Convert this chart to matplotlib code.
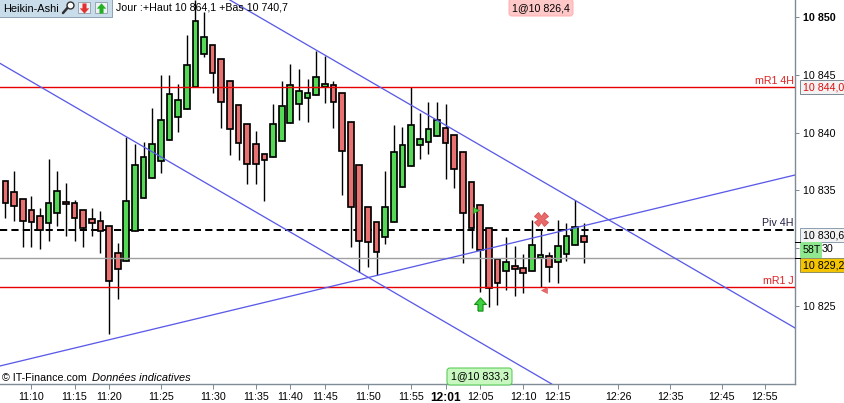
import matplotlib
matplotlib.use('Agg')
import matplotlib.pyplot as plt
from matplotlib.patches import Rectangle, FancyBboxPatch
from matplotlib.path import Path

plt.rcParams['font.family'] = ['Liberation Sans', 'DejaVu Sans']

# top and bottom of the bodies, wicks, all in points
highs = [10835.79,10836.68,10834.23,10834.52,10833.45,10837.72,10836.68,10835.64,10834.14,10833.28,
         10833.45,10833.22,10831.90,10830.45,10839.65,10839.01,10839.16,10842.10,10844.98,10844.98,
         10844.20,10848.42,10851.47,10850.41,10847.55,10846.34,10844.44,10842.36,10840.72,10840.11,
         10838.12,10842.47,10844.44,10845.93,10845.48,10844.61,10847.08,10846.63,10844.44,10843.40,
         10840.89,10837.17,10833.54,10832.24,10836.68,10840.63,10840.46,10843.92,10841.67,10842.62,
         10842.62,10842.45,10839.77,10838.30,10835.70,10833.71,10831.72,10829.09,10830.94,10830.19,
         10829.47,10832.41,10831.66,10829.65,10832.41,10832.16,10834.14,10832.16]
tops = [10835.79,10834.84,10834.23,10833.28,10832.76,10833.89,10834.92,10833.97,10833.89,10833.28,
        10832.50,10832.33,10831.90,10829.56,10834.06,10837.17,10837.86,10838.99,10841.06,10843.31,
        10842.79,10845.82,10849.63,10848.24,10847.55,10846.34,10844.44,10842.36,10840.72,10838.99,
        10838.12,10840.72,10842.28,10844.09,10843.57,10843.40,10844.78,10844.18,10844.09,10843.40,
        10840.89,10837.17,10833.54,10832.24,10833.54,10838.30,10838.90,10840.63,10839.42,10840.29,
        10841.06,10840.37,10839.77,10838.30,10835.70,10833.71,10831.72,10829.09,10828.78,10828.44,
        10828.26,10830.25,10829.39,10829.30,10830.17,10831.03,10831.81,10831.03]
bottoms = [10833.89,10833.63,10832.33,10832.24,10831.55,10832.16,10833.02,10833.80,10832.59,10831.72,
           10832.16,10831.46,10827.14,10828.18,10828.87,10831.46,10834.32,10836.05,10837.52,10839.33,
           10841.32,10842.02,10843.92,10846.77,10845.13,10842.62,10840.29,10839.08,10837.26,10837.26,
           10837.60,10837.86,10839.25,10840.81,10842.45,10842.97,10843.23,10843.97,10842.62,10838.38,
           10833.54,10830.60,10830.51,10829.65,10830.94,10832.24,10835.27,10837.09,10838.90,10839.16,
           10839.68,10839.08,10836.83,10833.02,10831.72,10829.82,10826.53,10826.97,10828.00,10828.18,
           10827.83,10828.00,10829.13,10828.35,10828.78,10829.47,10830.25,10830.51]
lows = [10832.64,10832.38,10830.13,10830.13,10829.96,10830.65,10831.95,10831.08,10830.65,10830.13,
        10831.08,10829.61,10822.61,10825.63,10828.87,10831.46,10834.32,10836.05,10836.48,10839.33,
        10840.08,10842.02,10843.92,10846.57,10843.40,10840.42,10838.09,10837.66,10835.58,10835.58,
        10834.11,10837.86,10839.25,10840.81,10841.09,10840.94,10843.23,10842.59,10840.42,10834.63,
        10830.13,10827.97,10828.40,10827.68,10830.39,10832.24,10835.27,10837.09,10837.69,10838.12,
        10839.68,10835.96,10835.18,10828.70,10829.99,10826.19,10824.94,10825.09,10826.39,10825.87,
        10826.15,10828.00,10826.62,10827.10,10826.97,10828.92,10830.25,10828.70]
# 1 = green bar
up = [0,0,0,0,0,1,1,0,0,0,0,0,0,0,1,1,1,1,1,1,1,1,1,1,0,0,0,0,0,0,0,1,1,1,1,1,1,1,0,0,0,0,0,0,
      1,1,1,1,1,1,1,0,0,0,0,0,0,0,1,0,0,1,1,0,1,1,1,0]

time_pos = [3,8,12,18,24,29,33,37,42,47,51,55,60,64,71,77,83,88]
time_labels = ['11:10','11:15','11:20','11:25','11:30','11:35','11:40','11:45','11:50','11:55',
               '12:01','12:05','12:10','12:15','12:26','12:35','12:45','12:55']
price_ticks = [10825,10830,10835,10840,10845,10850]
# the 10 830 label sits under the 58T box, only its end shows
price_labels = ['10 825','','10 835','10 840','10 845','10 850']

mr1_4h = 10843.94
piv_4h = 10831.58
last_level = 10829.15
mr1_j = 10826.60

# trend lines, (bar, price) at both ends
trend_a = ([-0.637, 63.29], [10845.99, 10818.25])
trend_b = ([26.0, 91.48], [10851.47, 10823.10])
trend_c = ([-0.637, 91.48], [10819.81, 10836.33])

W, H = 845, 403
FS = 7.7
fig = plt.figure(figsize=(W/100, H/100), dpi=100, facecolor='white')
ax = fig.add_axes([0, (H-384)/H, 795/W, 384/H])
ax.set_xlim(-0.637, 91.48)
ax.set_ylim(10818.25, 10851.47)

RED, GREEN, BLUE, AXC = '#e87272', '#55d855', '#5a5ae8', '#7f8c96'
px = 0.72  # one pixel in points

for i in range(len(highs)):
    ax.vlines(i, lows[i], highs[i], color='black', lw=1.4*px, zorder=3)
    ax.bar(i, tops[i]-bottoms[i], bottom=bottoms[i], width=0.66, color=GREEN if up[i] else RED,
           edgecolor='black', linewidth=1.7*px, zorder=4)

ax.axhline(piv_4h, color='black', lw=2*px, dashes=(3.6, 2.1), zorder=2)
ax.axhline(mr1_4h, color='#e80000', lw=1.4*px, zorder=5)
ax.axhline(mr1_j, color='#e80000', lw=1.4*px, zorder=5)
ax.axhline(last_level, color='#a0a0a0', lw=1.4*px, zorder=5)
for t in (trend_a, trend_b, trend_c):
    ax.plot(t[0], t[1], color=BLUE, lw=1.3*px, zorder=6)

# order markers
arrow = Path([(-.38,-1),(.38,-1),(.38,0),(.9,0),(0,1),(-.9,0),(-.38,0),(-.38,-1)])
ax.plot([55], [10825.2], marker=arrow, ms=9.5, mfc='#3fd03f', mec='#159015', mew=0.8, zorder=7)
ax.plot([62], [10832.53], marker='X', ms=9.5, mfc='#e86a6a', mec='#d85050', mew=0.6, zorder=7)
ax.plot([62.45], [10826.4], marker='<', ms=5, mfc='#e86a6a', mec='#d85050', mew=0.4, zorder=7)
ax.plot([54.5], [10833.31], marker='>', ms=5, mfc='#3fd03f', mec='#159015', mew=0.4, zorder=7)

for s in ('top', 'left'):
    ax.spines[s].set_visible(False)
for s in ('right', 'bottom'):
    ax.spines[s].set_color(AXC)
    ax.spines[s].set_linewidth(1.4*px)
ax.yaxis.tick_right()
ax.set_yticks(price_ticks, price_labels)
ax.set_xticks(time_pos, time_labels)
ax.tick_params(axis='y', length=4*px, width=px, color=AXC, labelsize=FS, pad=3)
ax.tick_params(axis='x', length=5*px, width=px, color=AXC, labelsize=FS, pad=2.5)
for lab in ax.get_xticklabels():
    if lab.get_text() == '12:01':
        lab.set_fontweight('bold')
        lab.set_fontsize(8.6)
for lab in ax.get_yticklabels():
    if lab.get_text() == '10 850':
        lab.set_fontweight('bold')

# everything around the chart goes on an overlay in pixels
ov = fig.add_axes([0, 0, 1, 1], zorder=10)
ov.set_xlim(0, W)
ov.set_ylim(H, 0)
ov.axis('off')
ov.patch.set_alpha(0)

def label(x, y, s, **kw):
    kw.setdefault('fontsize', FS)
    kw.setdefault('va', 'center')
    ov.text(x, y, s, **kw)

def box(x0, y0, x1, y1, fc, ec, round_=False):
    if round_:
        ov.add_patch(FancyBboxPatch((x0+2, y0+2), x1-x0-4, y1-y0-4, boxstyle='round,pad=2,rounding_size=3',
                                    fc=fc, ec=ec, lw=px, mutation_aspect=1))
    else:
        ov.add_patch(Rectangle((x0, y0), x1-x0, y1-y0, fc=fc, ec=ec, lw=px))

# header
box(-1, -1, 112, 17, '#c9dcea', '#8fa5b5')
label(3, 8.5, 'Heikin-Ashi', fontsize=7.9)
ov.plot([63, 70], [13, 5], color='#303030', lw=1.8, solid_capstyle='round')
ov.plot([70.5], [4.5], marker='o', ms=5, mfc='white', mec='#303030', mew=1)
box(78.5, 1.5, 90.5, 12.5, '#eef2f6', '#9aa8b4')
ov.plot([84.5], [7.5], marker=Path([(x, -y) for x, y in arrow.vertices]), ms=7, mfc='#e03030', mec='#e03030', mew=0.2)
box(95.5, 1.5, 107, 12.5, '#eef2f6', '#9aa8b4')
ov.plot([101.5], [7.5], marker=arrow, ms=7, mfc='#20b020', mec='#20b020', mew=0.2)
label(116, 8, 'Jour :+Haut 10 864,1 +Bas 10 740,7')

box(509, -1, 573, 16, '#ffc8c8', '#ffb0b0', True)
label(541, 8, '1@10 826,4', ha='center')
box(447, 368, 512, 385, '#c8f8c0', '#50c850', True)
label(479.5, 376.5, '1@10 833,3', ha='center')

label(2, 378, '© IT-Finance.com')
label(92, 378, 'Données indicatives', style='italic', fontsize=7.9)

# level names and price boxes
label(794, 80.5, 'mR1 4H', ha='right', color='#e02020')
label(794, 223, 'Piv 4H', ha='right', color='#202040')
label(794, 281, 'mR1 J', ha='right', color='#e02020')

ov.plot([795, 800], [242.3, 242.3], color='black', lw=px)
ov.plot([795, 800], [258.3, 258.3], color='black', lw=px)

box(800.5, 79.5, 844.5, 94, '#f2f2f2', '#7f8c96')
label(803, 87.5, '10 844,0', color='#e01010')
box(800.5, 228, 844.5, 242, '#f2f2f2', '#8fa0b0')
label(803, 235.5, '10 830,6')
box(800.5, 242, 821, 257, '#8fe88f', '#8fe88f')
label(803, 250, '58T')
label(822, 249, '30')
box(800.5, 258, 844.5, 272, '#f5c400', '#8f8f60')
label(803, 265.5, '10 829,2')

fig.savefig('out.png', dpi=100)
